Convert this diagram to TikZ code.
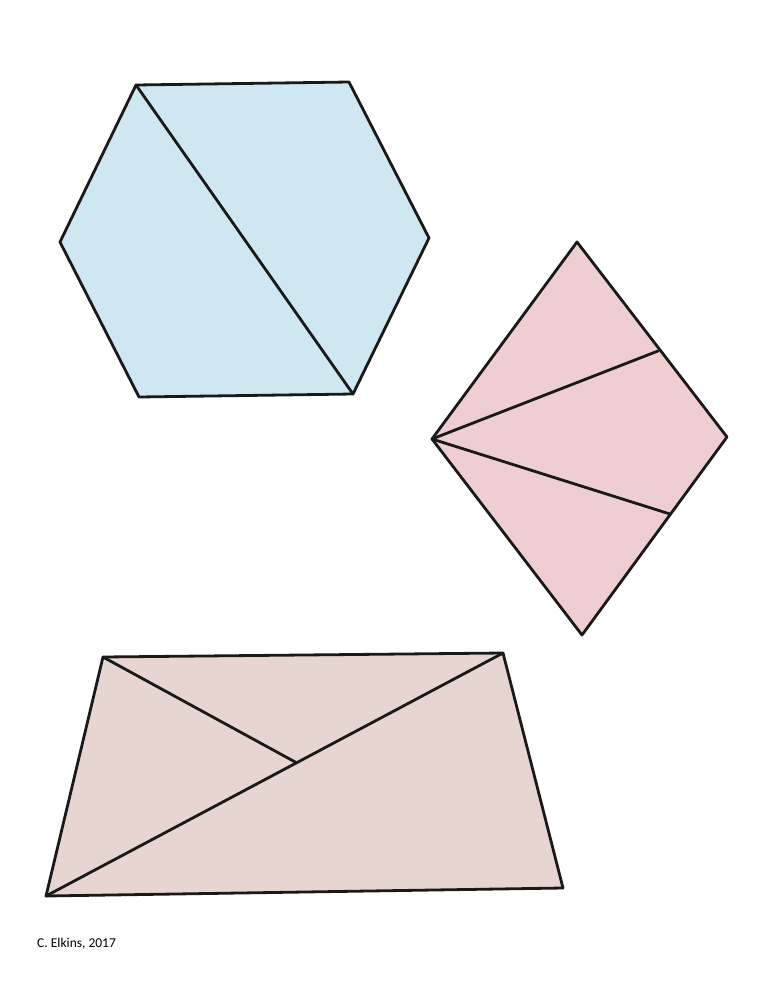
\documentclass[tikz,border=0pt]{standalone}
\usepackage{fontspec}
\setsansfont{Carlito}
\usetikzlibrary{positioning}
\definecolor{hexfill}{RGB}{206,231,241}
\definecolor{rhfill}{RGB}{238,206,208}
\definecolor{trfill}{RGB}{231,213,209}
\tikzset{piece/.style={draw=black!90, line width=2.8pt, line join=round, fill=#1},
         cut/.style={draw=black!90, line width=2.8pt, line cap=round}}

\begin{document}
\begin{tikzpicture}[x=1pt, y=-1pt]
\useasboundingbox (0,0) rectangle (768,994);
% hexagon, cut in two trapezoids
\coordinate (h1) at (136,85);
\coordinate (h2) at (349,82);
\coordinate (h3) at (429,238);
\coordinate (h4) at (353,394);
\coordinate (h5) at (139,397);
\coordinate (h6) at (60,242);
\draw[piece=hexfill] (h1) -- (h2) -- (h3) -- (h4) -- (h5) -- (h6) -- cycle;
\draw[cut] (h1) -- (h4);
% rhombus, cut in three triangles
\coordinate (r1) at (577,242);
\coordinate (r2) at (727,437);
\coordinate (r3) at (582,635);
\coordinate (r4) at (432,439);
\coordinate (ra) at (658,351);
\coordinate (rb) at (670,514);
\draw[piece=rhfill] (r1) -- (r2) -- (r3) -- (r4) -- cycle;
\draw[cut] (r4) -- (ra);
\draw[cut] (r4) -- (rb);
% trapezoid, cut in three triangles
\coordinate (t1) at (103,657);
\coordinate (t2) at (503,653);
\coordinate (t3) at (563,888);
\coordinate (t4) at (46,896);
\coordinate (tm) at (297,763);
\draw[piece=trfill] (t1) -- (t2) -- (t3) -- (t4) -- cycle;
\draw[cut] (t2) -- (t4);
\draw[cut] (t1) -- (tm);
\node[anchor=base west, inner sep=0pt, font=\sffamily\fontsize{13.5}{16}\selectfont] (sig) at (37,947) {C. Elkins, 2017};
\end{tikzpicture}
\end{document}
